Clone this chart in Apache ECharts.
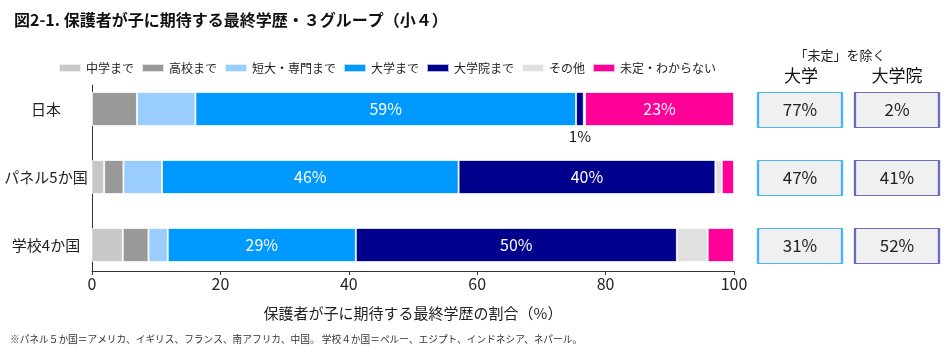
<!DOCTYPE html>
<html><head><meta charset="utf-8">
<script src="https://cdn.jsdelivr.net/npm/echarts@6/dist/echarts.min.js"></script>
<style>html,body{margin:0;padding:0;background:#fff}#c{width:950px;height:356px}</style>
</head><body><div id="c"></div>
<script>
const categories = ['日本', 'パネル5か国', '学校4か国'];
const seriesNames = ['中学まで', '高校まで', '短大・専門まで', '大学まで', '大学院まで', 'その他', '未定・わからない'];
const juniorHigh = [0, 1.9, 4.8];
const highSchool = [7.0, 3.0, 4.0];
const juniorCollege = [9.1, 6.0, 3.0];
const university = [59.3, 46.2, 29.3];
const graduate = [1.2, 40.0, 50.0];
const other = [0.2, 1.0, 4.8];
const undecided = [23.2, 1.9, 4.1];
const uniExclUndecided = [77, 47, 31];
const gradExclUndecided = [2, 41, 52];
const boxColumns = ['大学', '大学院'];
const xTicks = [0, 20, 40, 60, 80, 100];

const FONT = '"Noto Sans CJK JP", "Noto Sans", sans-serif';
const colors = ['#c8c8c8', '#999999', '#99ccff', '#0099ff', '#00008c', '#e0e0e0', '#ff0099'];
const values = [juniorHigh, highSchool, juniorCollege, university, graduate, other, undecided];

const barSeries = seriesNames.map((name, si) => ({
  name, type: 'bar', stack: 'total', xAxisIndex: 0, yAxisIndex: 0, barWidth: 34,
  itemStyle: { color: colors[si], borderColor: 'rgba(255,255,255,0.7)', borderWidth: 1 },
  emphasis: { disabled: true },
  label: {
    show: true, position: 'inside', color: '#fff', fontSize: 16, fontFamily: FONT,
    formatter: p => (p.value >= 20 ? Math.round(p.value) + '%' : '')
  },
  data: values[si].map((v, ri) => {
    if (si === 4 && ri === 0) {
      return { value: v, label: { show: true, position: 'bottom', distance: 3, color: '#111', fontSize: 15, formatter: p => Math.round(p.value) + '%' } };
    }
    return v;
  })
}));

const boxSeries = [uniExclUndecided, gradExclUndecided].map((arr, ci) => ({
  type: 'scatter', xAxisIndex: 2, yAxisIndex: 2, symbol: 'rect', symbolSize: [84, 35],
  itemStyle: { color: '#f0f0f0', borderColor: ci === 0 ? '#45b5f5' : '#6a6ac0', borderWidth: 1.5, opacity: 1 },
  emphasis: { disabled: true },
  label: { show: true, position: 'inside', color: '#222', fontSize: 17, fontFamily: FONT, formatter: p => p.value[2] + '%' },
  data: arr.map((v, ri) => [ci, ri, v])
}));

const chart = echarts.init(document.getElementById('c'), null, { renderer: 'canvas' });
chart.setOption({
  animation: false,
  backgroundColor: '#fff',
  textStyle: { fontFamily: FONT },
  title: {
    text: '図2-1. 保護者が子に期待する最終学歴・３グループ（小４）',
    left: 9, top: 7,
    textStyle: { fontSize: 16, fontWeight: 'bold', color: '#111', fontFamily: FONT }
  },
  legend: {
    data: seriesNames, left: 53, top: 57, icon: 'rect', itemWidth: 22, itemHeight: 8, itemGap: 7,
    textStyle: { fontSize: 12, color: '#222', fontFamily: FONT }
  },
  grid: [
    { left: 92, width: 642, top: 75, height: 204 },
    { left: 92, width: 642, top: 85, height: 186 },
    { left: 751.5, width: 194, top: 76, height: 204 }
  ],
  xAxis: [
    { gridIndex: 0, type: 'value', min: 0, max: 100, show: false },
    {
      gridIndex: 1, type: 'value', min: 0, max: 100, interval: 20,
      axisLine: { show: true, lineStyle: { color: '#333' } },
      axisTick: { show: true, length: 4, lineStyle: { color: '#333' } },
      splitLine: { show: false },
      axisLabel: { fontSize: 16, color: '#222', margin: 5, fontFamily: FONT,
        customValues: xTicks },
      name: '保護者が子に期待する最終学歴の割合（%）', nameLocation: 'middle', nameGap: 35,
      nameTextStyle: { fontSize: 15, color: '#222', fontFamily: FONT }
    },
    { gridIndex: 2, type: 'category', data: boxColumns, show: false }
  ],
  yAxis: [
    {
      gridIndex: 0, type: 'category', data: categories, inverse: true,
      axisLine: { show: false }, axisTick: { show: false },
      axisLabel: { fontSize: 15, color: '#222', align: 'center', margin: 46, fontFamily: FONT }
    },
    {
      gridIndex: 1, type: 'value', min: 0, max: 1,
      axisLine: { show: true, lineStyle: { color: '#333' } },
      axisTick: { show: false }, axisLabel: { show: false }, splitLine: { show: false }
    },
    { gridIndex: 2, type: 'category', data: categories, inverse: true, show: false }
  ],
  graphic: [
    { type: 'text', x: 840, y: 55, style: { text: '「未定」を除く', fill: '#222', font: '13px ' + FONT, align: 'center', verticalAlign: 'middle' } },
    { type: 'text', x: 801, y: 76, style: { text: boxColumns[0], fill: '#111', font: '17px ' + FONT, align: 'center', verticalAlign: 'middle' } },
    { type: 'text', x: 897, y: 76, style: { text: boxColumns[1], fill: '#111', font: '17px ' + FONT, align: 'center', verticalAlign: 'middle' } },
    { type: 'text', left: 10, top: 334, style: { text: '※パネル５か国＝アメリカ、イギリス、フランス、南アフリカ、中国。 学校４か国＝ペルー、エジプト、インドネシア、ネパール。', fill: '#333', font: '9.7px ' + FONT } }
  ],
  series: barSeries.concat(boxSeries)
});
</script></body></html>
